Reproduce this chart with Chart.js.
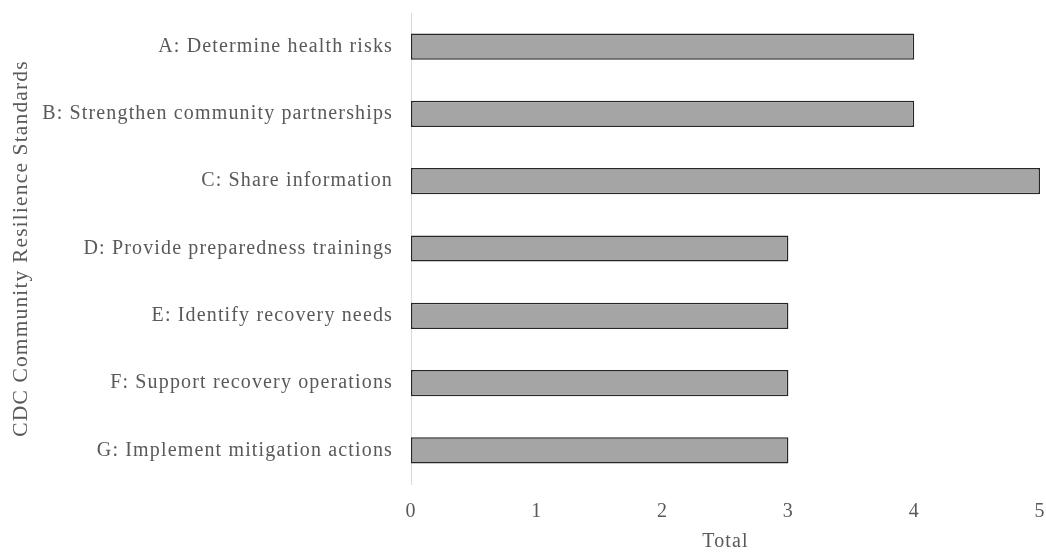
<!DOCTYPE html>
<html>
<head>
<meta charset="utf-8">
<script src="https://cdn.jsdelivr.net/npm/chart.js@4"></script>
<style>
html,body{margin:0;padding:0;background:#fff;}
#wrap{width:1046px;height:554px;}
</style>
</head>
<body>
<div id="wrap"><canvas id="c" width="1046" height="554"></canvas></div>
<script>
const categories = [
  "A: Determine health risks",
  "B: Strengthen community partnerships",
  "C: Share information",
  "D: Provide preparedness trainings",
  "E: Identify recovery needs",
  "F: Support recovery operations",
  "G: Implement mitigation actions"
];
const totals = [4, 4, 5, 3, 3, 3, 3];
const xTicks = [0, 1, 2, 3, 4, 5];

const font = "'Liberation Serif', 'Times New Roman', serif";
const spacing = {
  id: 'spacing',
  beforeLayout(chart) { chart.ctx.letterSpacing = '1.15px'; },
  beforeDraw(chart) { chart.ctx.letterSpacing = '1.15px'; }
};
new Chart(document.getElementById('c'), {
  type: 'bar',
  plugins: [spacing],
  data: {
    labels: categories,
    datasets: [{
      data: totals,
      backgroundColor: '#a5a5a5',
      borderColor: '#262626',
      borderWidth: 1.5,
      borderSkipped: false,
      barPercentage: 0.39,
      categoryPercentage: 1
    }]
  },
  options: {
    indexAxis: 'y',
    responsive: false,
    animation: false,
    layout: { padding: { top: 13, right: 0, left: 0, bottom: 0 } },
    plugins: { legend: { display: false }, tooltip: { enabled: false } },
    scales: {
      x: {
        min: 0, max: 5,
        afterBuildTicks: s => { s.ticks = xTicks.map(v => ({ value: v })); },
        grid: { display: false },
        border: { display: false },
        ticks: { color: '#595959', font: { family: font, size: 20 }, padding: 8 },
        title: { display: true, text: 'Total', color: '#595959', font: { family: font, size: 20 }, padding: { top: 0, bottom: 0 } },
        afterFit: s => { s.height = 70; s.paddingRight = 6; s.paddingLeft = 0; }
      },
      y: {
        grid: { display: false },
        border: { display: true, color: '#d9d9d9', width: 1 },
        ticks: { color: '#595959', font: { family: font, size: 20 }, padding: 10 },
        title: { display: true, text: 'CDC Community Resilience Standards', color: '#595959', font: { family: font, size: 21.5 }, padding: { top: 8, bottom: 0 } },
        afterFit: s => { s.width = 411; s.paddingTop = 0; s.paddingBottom = 0; }
      }
    }
  }
});
</script>
</body>
</html>
